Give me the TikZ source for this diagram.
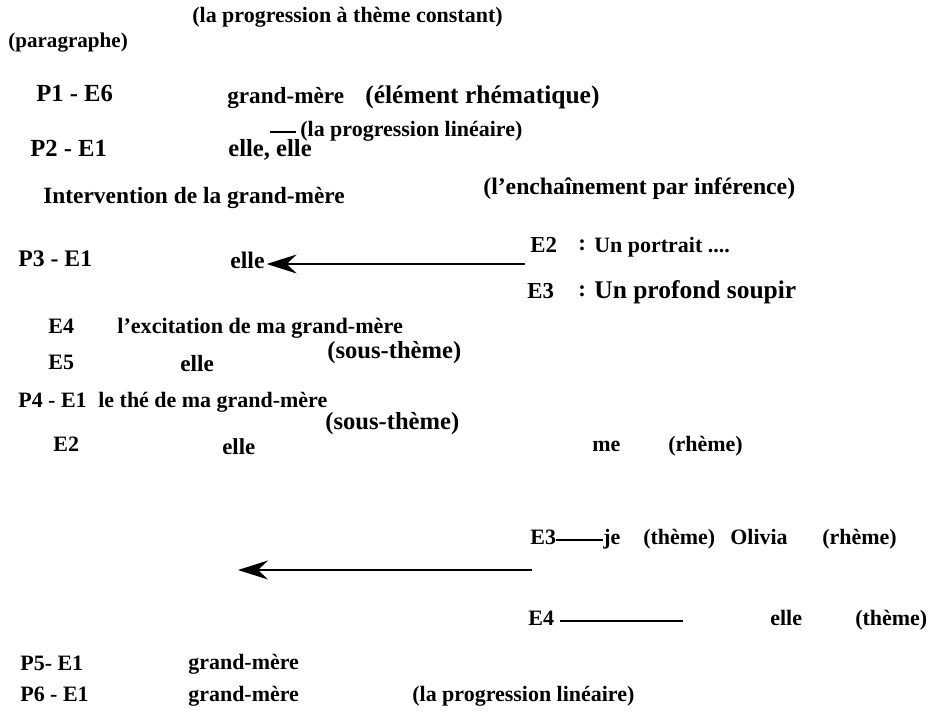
\documentclass[tikz,border=0pt]{standalone}
\usepackage{fontspec}
\setmainfont{Liberation Serif}
\usetikzlibrary{arrows.meta}

\begin{document}
\begin{tikzpicture}[x=0.02cm,y=-0.02cm]
  \tikzset{lbl/.style = {anchor=west, inner sep=0pt, text height=8pt, text depth=2.5pt, font=\bfseries\fontsize{#1}{14}\selectfont}, lbl/.default=12.5}
  \tikzset{edge/.style = {-, line width=0.6pt}}
  \tikzset{arr/.style = {-{Stealth[length=0.6cm,width=0.38cm,inset=0.2cm]}, line width=0.8pt}}
  \useasboundingbox (0,0) rectangle (950,714);

  % left column (paragraphs and sentences)
  \foreach \n/\x/\y/\s/\t in {par/8/43/12/(paragraphe), pa/36/97/14/P1 - E6, pb/30/152/14/P2 - E1,
    inter/43/199/13.3/Intervention de la grand-mère, pc/18/262/13.5/P3 - E1, e4/48/329/12.5/E4, e5/48/365/12.5/E5,
    pd/18/403/12.5/P4 - E1, e2/53/447/12.5/E2, pe/20/666/12.5/P5- E1, pf/20/697/12.5/P6 - E1}
  {
    \node[lbl=\s] (\n) at (\x,\y) {\t};
  }

  % themes
  \foreach \n/\x/\y/\s/\t in {gma/227/99/13.2/grand-mère, ellea/228/152/14/{elle, elle}, elleb/230/264/13.5/elle,
    exc/117/329/12.6/l'excitation de ma grand-mère, ellec/180/367/13.2/elle, the/98/403/12.5/le thé de ma grand-mère,
    elled/222/450/13/elle, gmb/188/665/12.5/grand-mère, gmc/188/697/12.5/grand-mère}
  {
    \node[lbl=\s] (\n) at (\x,\y) {\t};
  }

  % comments
  \node[lbl] (cst) at (192,18) {(la progression à thème constant)};
  \node[lbl=14.5] (rhe) at (365,99) {(élément rhématique)};
  \node[lbl] (lina) at (300,132) {(la progression linéaire)};
  \node[lbl=13.5] (inf) at (483,190) {(l'enchaînement par inférence)};
  \node[lbl=14] (sta) at (327,354) {(sous-thème)};
  \node[lbl=14] (stb) at (325,425) {(sous-thème)};
  \node[lbl] (linb) at (412,697) {(la progression linéaire)};
  \coordinate (da) at (270,132);
  \coordinate (db) at (296,132);

  % right column
  \node[lbl=13] (r2) at (530,248) {E2};
  \node[lbl=13] (c2) at (578,246) {:};
  \node[lbl=12.5] (por) at (594,248) {Un portrait ....};
  \node[lbl=13] (r3) at (527,294) {E3};
  \node[lbl=13] (c3) at (578,292) {:};
  \node[lbl=14.5] (sou) at (594,294) {Un profond soupir};
  \node[lbl] (me) at (592,447) {me};
  \node[lbl] (rha) at (668,447) {(rhème)};
  \node[lbl] (s3) at (530,540) {E3};
  \node[lbl] (je) at (603,540) {je};
  \node[lbl] (tha) at (643,540) {(thème)};
  \node[lbl] (oli) at (730,540) {Olivia};
  \node[lbl] (rhb) at (822,540) {(rhème)};
  \node[lbl] (s4) at (528,621) {E4};
  \node[lbl] (ellee) at (770,621) {elle};
  \node[lbl] (thb) at (855,621) {(thème)};
  \coordinate (ka) at (525,264);
  \coordinate (kb) at (532,570);
  \coordinate (kc) at (238,570);
  \coordinate (kd) at (683,621);

  % edges
  \draw[edge] (da) -- (db);
  \draw[arr] (ka) -- ([xshift=1pt]elleb.east);
  \draw[edge] (s3.east) -- (je.west);
  \draw[arr] (kb) -- (kc);
  \draw[edge] ([xshift=3pt]s4.east) -- (kd);
\end{tikzpicture}
\end{document}
